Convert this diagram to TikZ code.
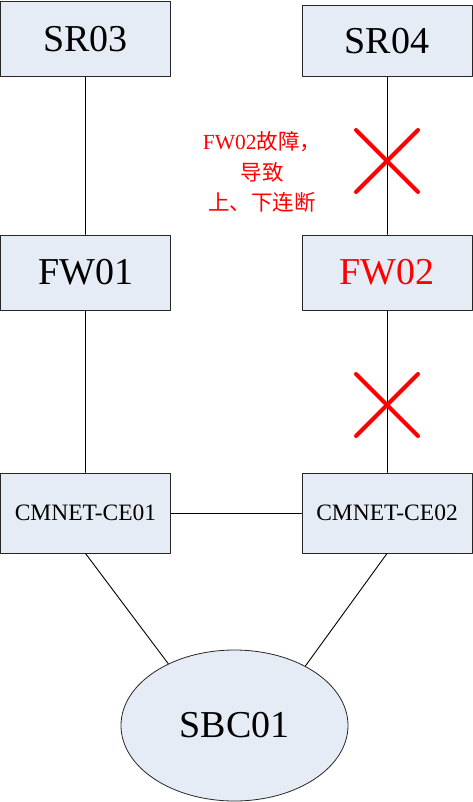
\documentclass[tikz,border=0pt]{standalone}
\usepackage{fontspec}
\setmainfont{Liberation Serif}
\newfontfamily\cjk{Noto Sans CJK SC}
\usetikzlibrary{shapes.geometric,shapes.misc}
\definecolor{devfill}{RGB}{230,236,246}
\tikzset{
  every picture/.append style={line cap=round,line join=round},
  net box/.style={draw=black!85,fill=devfill,line width=1pt,minimum width=170pt,inner sep=0pt},
  net big/.style={font=\fontsize{38}{40}\selectfont},
  net small/.style={font=\fontsize{23.5}{25}\selectfont},
  net link/.style={black,line width=0.9pt},
  net cut/.style={cross out,draw=red,line width=4pt,minimum size=58pt,inner sep=0pt},
  net note/.style={text=red,align=center,font=\fontsize{21.5}{30.5}\selectfont}
}
\begin{document}
\begin{tikzpicture}[x=1pt,y=-1pt]
  \useasboundingbox (0,0) rectangle (473,802);
  % devices
  \node[net box,net big,minimum height=75pt] (sr03) at (85.5,39) {SR03};
  \node[net box,net big,minimum height=71pt] (sr04) at (387,41) {SR04};
  \node[net box,net big,minimum height=75pt] (fw01) at (85.5,272.5) {FW01};
  \node[net box,net big,minimum height=75pt,text=red] (fw02) at (387,272.5) {FW02};
  \node[net box,net small,minimum height=80pt] (ce01) at (85.5,513) {CMNET-CE01};
  \node[net box,net small,minimum height=80pt] (ce02) at (387,513) {CMNET-CE02};
  \node[draw=black!85,fill=devfill,line width=0.8pt,ellipse,minimum width=227pt,minimum height=151pt,inner sep=0pt,net big] (sbc01) at (234.5,725.5) {SBC01};
  % links
  \draw[net link] (sr03) -- (fw01);
  \draw[net link] (fw01) -- (ce01);
  \draw[net link] (sr04) -- (fw02);
  \draw[net link] (fw02) -- (ce02);
  \draw[net link] (ce01) -- (ce02);
  \draw[net link] (ce01.south) -- (sbc01.137);
  \draw[net link] (ce02.south) -- (sbc01.40);
  % fault marks
  \node[net cut] (cut1) at (387,161) {};
  \node[net cut] (cut2) at (387,405) {};
  \node[net note] (fault) at (262,172) {FW02{\cjk 故障，}\\{\cjk 导致}\\{\cjk 上、下连断}};
\end{tikzpicture}
\end{document}
